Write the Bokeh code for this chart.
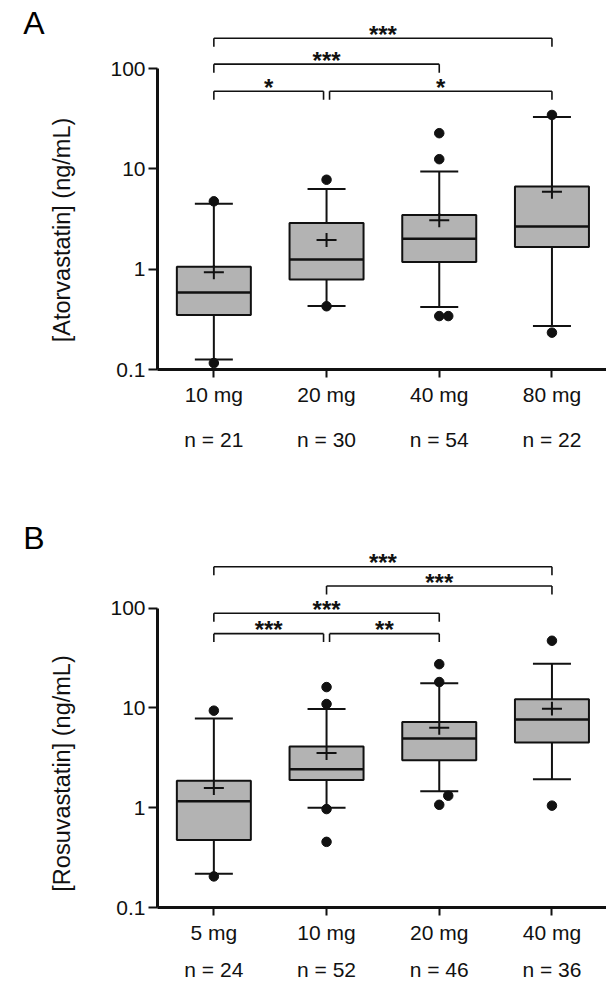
import numpy as np
from bokeh.plotting import figure
from bokeh.models import FixedTicker, LinearAxis, Range1d
from bokeh.layouts import column, row
from bokeh.embed import file_html
from bokeh.resources import INLINE
from bokeh.core.properties import value

# ---------------- data: panel A (atorvastatin) ----------------
a_doses = ["10 mg", "20 mg", "40 mg", "80 mg"]
a_counts = ["n = 21", "n = 30", "n = 54", "n = 22"]
a_q1 = [0.35, 0.79, 1.18, 1.66]
a_median = [0.585, 1.25, 2.01, 2.67]
a_q3 = [1.06, 2.88, 3.47, 6.66]
a_low = [0.126, 0.43, 0.42, 0.271]
a_high = [4.5, 6.3, 9.4, 33.0]
a_mean = [0.93, 1.96, 3.07, 5.93]
a_out_group = [1, 1, 2, 2, 3, 3, 3, 3, 4, 4]
a_out_value = [4.75, 0.116, 7.8, 0.427, 22.7, 12.5, 0.341, 0.341, 34.5, 0.233]
a_out_side = [0, 0, 0, 0, 0, 0, 0, 1, 0, 0]
# (group from, group to, label, bracket height in ng/mL)
a_signif = [(1, 4, "***", 201.0), (1, 3, "***", 110.7), (1, 2, "*", 59.5), (2, 4, "*", 59.5)]

# ---------------- data: panel B (rosuvastatin) ----------------
b_doses = ["5 mg", "10 mg", "20 mg", "40 mg"]
b_counts = ["n = 24", "n = 52", "n = 46", "n = 36"]
b_q1 = [0.476, 1.9, 2.99, 4.51]
b_median = [1.165, 2.43, 4.95, 7.65]
b_q3 = [1.87, 4.12, 7.25, 12.2]
b_low = [0.218, 1.0, 1.46, 1.93]
b_high = [7.83, 9.78, 17.7, 27.7]
b_mean = [1.58, 3.53, 6.32, 9.85]
b_out_group = [1, 1, 2, 2, 2, 2, 3, 3, 3, 3, 4, 4]
b_out_value = [9.4, 0.205, 16.2, 10.96, 0.97, 0.455, 27.5, 18.2, 1.32, 1.07, 47.2, 1.05]
b_out_side = [0, 0, 0, 0, 0, 0, 0, 0, 1, 0, 0, 0]
b_signif = [(1, 4, "***", 260.5), (2, 4, "***", 167.0), (1, 3, "***", 89.0),
            (1, 2, "***", 55.6), (2, 3, "**", 55.6)]

# ---------------- layout / style ----------------
FONT = "Liberation Sans"
SIDE_W = 100          # width of the strip holding panel letter and y title
SIDE_FRAME = 84       # where the title strip's (empty) frame starts
MAIN_W = 506
FRAME_LEFT = 57       # frame left inside main figure
PX_GROUP = 112.7
PPD = 100.3           # pixels per decade
BOX_FILL = "#b3b3b3"
INK = "#111111"
STRIP_TOP = 15        # keeps strip frames below the (empty) title area


def blank(height, y_lo, y_hi, left, top=0, bottom=0):
    s = figure(width=SIDE_W, height=height, output_backend="svg", toolbar_location=None,
               x_range=Range1d(0, 1), y_range=Range1d(y_lo, y_hi),
               x_axis_location=None, y_axis_location="left",
               min_border_left=left, min_border_right=0,
               min_border_top=top, min_border_bottom=bottom)
    s.outline_line_color = None
    s.xgrid.visible = False
    s.ygrid.visible = False
    return s


def letter_box(height, letter, letter_cy):
    s = blank(height, height, 12, left=60, top=12)
    ax = s.yaxis[0]
    ax.ticker = FixedTicker(ticks=[letter_cy], minor_ticks=[])
    ax.major_label_overrides = {letter_cy: letter}
    ax.axis_line_color = None
    ax.major_tick_line_color = None
    ax.minor_tick_line_color = None
    ax.major_tick_out = 0
    ax.major_tick_in = 0
    ax.major_label_standoff = 40
    ax.major_label_text_font = FONT
    ax.major_label_text_font_size = "32px"
    ax.major_label_text_color = "black"
    return s


def title_box(height, ylabel, label_cy):
    # frame symmetric around the title centre; data y == canvas y
    t = max(STRIP_TOP, 2 * label_cy - height)
    b = 2 * label_cy - t
    s = blank(height, b, t, left=SIDE_FRAME,
              top=int(round(t)), bottom=int(round(height - b)))
    ax = s.yaxis[0]
    ax.ticker = FixedTicker(ticks=[], minor_ticks=[])
    ax.axis_line_color = None
    ax.major_tick_line_color = None
    ax.minor_tick_line_color = None
    ax.major_tick_out = 0
    ax.major_tick_in = 0
    ax.major_label_standoff = 0
    ax.axis_label = ylabel
    ax.axis_label_standoff = 10
    ax.axis_label_text_font = FONT
    ax.axis_label_text_font_size = "23.5px"
    ax.axis_label_text_font_style = "normal"
    ax.axis_label_text_color = INK
    return s


def build_panel(doses, counts, q1, med, q3, lo, hi, mean, og, ov, oside, signif,
                height, b_top, b_bottom, std1, std2):
    frame_h = height - b_top - b_bottom
    y_lo = 0.1
    y_hi = 10 ** (-1 + frame_h / PPD)
    x_lo = 0.5
    x_hi = 0.5 + (MAIN_W - FRAME_LEFT) / PX_GROUP

    p = figure(width=MAIN_W, height=height, output_backend="svg", toolbar_location=None,
               y_axis_type="log", x_range=Range1d(x_lo, x_hi), y_range=Range1d(y_lo, y_hi),
               min_border_left=FRAME_LEFT, min_border_right=0,
               min_border_top=b_top, min_border_bottom=b_bottom)
    p.outline_line_color = None
    p.xgrid.visible = False
    p.ygrid.visible = False
    p.background_fill_color = "white"
    p.border_fill_color = "white"

    n = len(doses)
    xs = np.arange(1, n + 1, dtype=float)
    q1 = np.array(q1); q3 = np.array(q3); med = np.array(med)
    lo = np.array(lo); hi = np.array(hi); mean = np.array(mean)

    bw = 74 / PX_GROUP
    cw = 38 / PX_GROUP
    mw = 20 / PX_GROUP
    mv = 10 ** (7 / PPD)

    # whiskers
    p.segment(x0=np.r_[xs, xs], y0=np.r_[q3, q1], x1=np.r_[xs, xs], y1=np.r_[hi, lo],
              line_color=INK, line_width=2)
    # caps
    p.segment(x0=np.r_[xs, xs] - cw / 2, y0=np.r_[hi, lo], x1=np.r_[xs, xs] + cw / 2,
              y1=np.r_[hi, lo], line_color=INK, line_width=2)
    # boxes
    p.vbar(x=xs, width=bw, bottom=q1, top=q3, fill_color=BOX_FILL,
           line_color=INK, line_width=2)
    # medians
    p.segment(x0=xs - bw / 2, y0=med, x1=xs + bw / 2, y1=med, line_color=INK, line_width=2.5)
    # means (+)
    p.segment(x0=xs - mw / 2, y0=mean, x1=xs + mw / 2, y1=mean, line_color=INK, line_width=2)
    p.segment(x0=xs, y0=mean / mv, x1=xs, y1=mean * mv, line_color=INK, line_width=2)
    # outliers
    dodge = 9 / PX_GROUP
    p.scatter(x=np.array(og, dtype=float) + np.array(oside) * dodge, y=ov, size=9.5,
              fill_color=INK, line_color=INK)

    # significance brackets
    gap = 3 / PX_GROUP
    drop = 10 ** (-8.5 / PPD)
    bx0, by0, bx1, by1, tx, ty, tt = [], [], [], [], [], [], []
    for (i, j, lab, yv) in signif:
        x0, x1 = float(i), float(j)
        for (i2, j2, _, yv2) in signif:
            if yv2 == yv and (i2, j2) != (i, j):
                if j2 == i:
                    x0 = i + gap
                if i2 == j:
                    x1 = j - gap
        bx0 += [x0, x0, x1]; by0 += [yv, yv, yv]
        bx1 += [x1, x0, x1]; by1 += [yv, yv * drop, yv * drop]
        tx.append((x0 + x1) / 2); ty.append(yv); tt.append(lab)
    p.segment(x0=bx0, y0=by0, x1=bx1, y1=by1, line_color=INK, line_width=1.6)
    p.text(x=tx, y=ty, text=tt, text_font=value(FONT), text_font_size="24px",
           text_font_style="bold", text_align="center", text_baseline="alphabetic",
           y_offset=-4, text_color=INK)

    # axes
    ya = p.yaxis[0]
    ya.ticker = FixedTicker(ticks=[0.1, 1, 10, 100], minor_ticks=[])
    ya.major_label_overrides = {0.1: "0.1", 1: "1", 10: "10", 100: "100"}
    ya.bounds = (0.1, 100)
    ya.axis_line_width = 3
    ya.axis_line_color = INK
    ya.major_tick_line_width = 2
    ya.major_tick_line_color = INK
    ya.major_tick_out = 9
    ya.major_tick_in = 0
    ya.minor_tick_line_color = None
    ya.major_label_standoff = 3
    ya.major_label_text_font = FONT
    ya.major_label_text_font_size = "21px"
    ya.major_label_text_color = INK

    xa = p.xaxis[0]
    xa.ticker = FixedTicker(ticks=list(xs), minor_ticks=[])
    xa.major_label_overrides = {int(k): d for k, d in zip(xs, doses)}
    xa.axis_line_width = 3
    xa.axis_line_color = INK
    xa.major_tick_line_width = 2
    xa.major_tick_line_color = INK
    xa.major_tick_out = 8
    xa.major_tick_in = 0
    xa.minor_tick_line_color = None
    xa.major_label_standoff = std1
    xa.major_label_text_font = FONT
    xa.major_label_text_font_size = "21px"
    xa.major_label_text_color = INK

    xn = LinearAxis(ticker=FixedTicker(ticks=list(xs), minor_ticks=[]),
                    major_label_overrides={int(k): c for k, c in zip(xs, counts)},
                    axis_line_color=None, major_tick_line_color=None,
                    minor_tick_line_color=None, major_tick_out=0, major_tick_in=0,
                    major_label_standoff=std2, major_label_text_font=FONT,
                    major_label_text_font_size="21px", major_label_text_color=INK)
    p.add_layout(xn, "below")
    return p


HA, HB = 490, 493
pA = build_panel(a_doses, a_counts, a_q1, a_median, a_q3, a_low, a_high, a_mean,
                 a_out_group, a_out_value, a_out_side, a_signif,
                 height=HA, b_top=15, b_bottom=121, std1=5, std2=19)
pB = build_panel(b_doses, b_counts, b_q1, b_median, b_q3, b_low, b_high, b_mean,
                 b_out_group, b_out_value, b_out_side, b_signif,
                 height=HB, b_top=50, b_bottom=74, std1=5, std2=11)

LA, LB = 40, 70   # heights of the letter boxes
sideA = column(letter_box(LA, "A", 13.5),
               title_box(HA - LA, "[Atorvastatin] (ng/mL)", 189.5))
sideB = column(letter_box(LB, "B", 47.0),
               title_box(HB - LB, "[Rosuvastatin] (ng/mL)", 213.0))

layout = column(row(sideA, pA), row(sideB, pB))
open("out.html", "w").write(file_html(layout, INLINE))
